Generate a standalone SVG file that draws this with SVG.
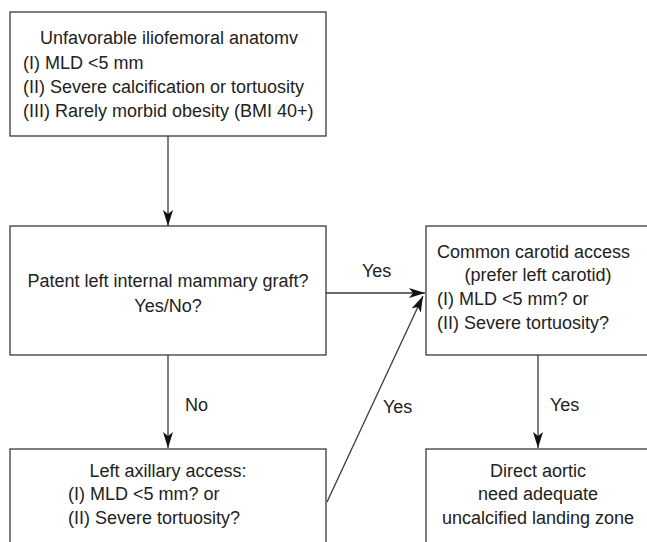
<svg xmlns="http://www.w3.org/2000/svg" width="647" height="542" viewBox="0 0 647 542">
<style>
.box{fill:#fff;stroke:#3a3a3a;stroke-width:1.3}
.ln{fill:none;stroke:#3a3a3a;stroke-width:1.3;marker-end:url(#ah)}
text{font-family:"Liberation Sans",Arial,sans-serif;font-size:18px;fill:#222}
.c{text-anchor:middle}
</style>
<defs>
<marker id="ah" viewBox="0 0 16 10" refX="16" refY="5" markerWidth="16" markerHeight="10" markerUnits="userSpaceOnUse" orient="auto">
<path d="M0,0 L16,5 L0,10 L4,5 Z" fill="#111"/>
</marker>
</defs>
<rect width="647" height="542" fill="#fff"/>
<g id="connectors">
<line class="ln" x1="168" y1="136" x2="168" y2="226"/>
<line class="ln" x1="326" y1="293" x2="425" y2="293"/>
<line class="ln" x1="168" y1="355" x2="168" y2="448"/>
<line class="ln" x1="327" y1="502" x2="423" y2="296"/>
<line class="ln" x1="538" y1="355" x2="538" y2="448"/>
<text x="362" y="277">Yes</text>
<text x="185" y="411">No</text>
<text x="383" y="413">Yes</text>
<text x="550" y="411">Yes</text>
</g>
<g id="n_unfavorable">
<rect class="box" x="10" y="12" width="316" height="124"/>
<text class="c" x="169" y="44">Unfavorable iliofemoral anatomv</text>
<text x="23" y="69">(I) MLD &lt;5 mm</text>
<text x="23" y="93">(II) Severe calcification or tortuosity</text>
<text x="23" y="117">(III) Rarely morbid obesity (BMI 40+)</text>
</g>
<g id="n_patent">
<rect class="box" x="10" y="226" width="316" height="129"/>
<text class="c" x="168" y="287">Patent left internal mammary graft?</text>
<text class="c" x="168" y="312">Yes/No?</text>
</g>
<g id="n_carotid">
<rect class="box" x="426" y="226" width="224" height="129"/>
<text x="437" y="258">Common carotid access</text>
<text class="c" x="538" y="281">(prefer left carotid)</text>
<text x="437" y="305">(I) MLD &lt;5 mm? or</text>
<text x="437" y="329">(II) Severe tortuosity?</text>
</g>
<g id="n_axillary">
<rect class="box" x="10" y="449" width="316" height="100"/>
<text class="c" x="168" y="477">Left axillary access:</text>
<text x="68" y="500">(I) MLD &lt;5 mm? or</text>
<text x="68" y="524">(II) Severe tortuosity?</text>
</g>
<g id="n_aortic">
<rect class="box" x="426" y="449" width="224" height="100"/>
<text class="c" x="538" y="477">Direct aortic</text>
<text class="c" x="538" y="500">need adequate</text>
<text class="c" x="538" y="524">uncalcified landing zone</text>
</g>
</svg>
